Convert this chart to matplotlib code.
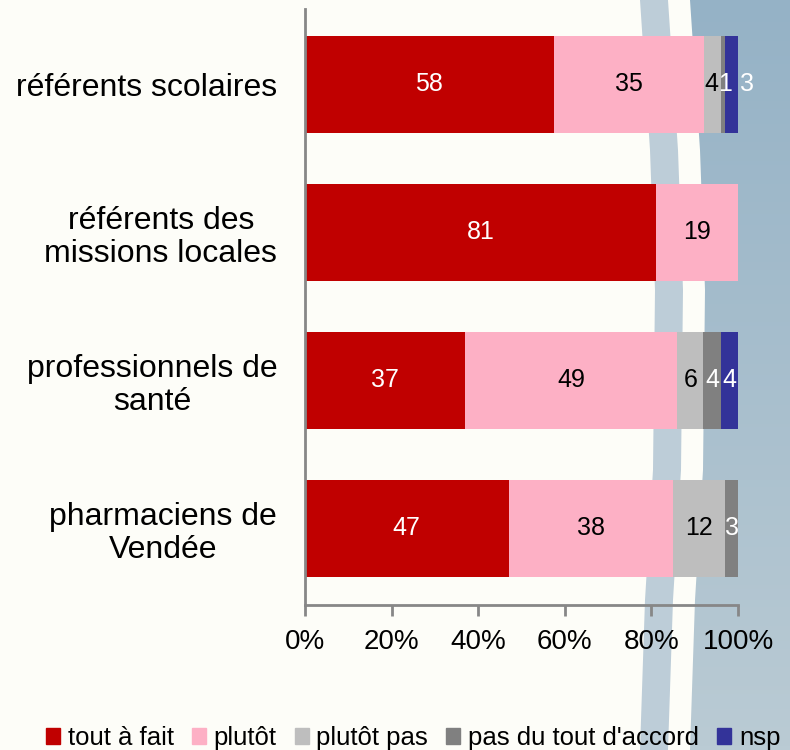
import numpy as np
import matplotlib
matplotlib.use("Agg")
import matplotlib.pyplot as plt
from matplotlib.patches import Polygon, Patch

categories = ["référents scolaires", "référents des\nmissions locales",
              "professionnels de\nsanté", "pharmaciens de\nVendée"]
series = ["tout à fait", "plutôt", "plutôt pas", "pas du tout d'accord", "nsp"]
values = np.array([
    [58, 35, 4, 1, 3],
    [81, 19, 0, 0, 0],
    [37, 49, 6, 4, 4],
    [47, 38, 12, 3, 0],
], dtype=float)
colors = ["#C00000", "#FDB0C5", "#BEBEBE", "#808080", "#333399"]
label_colors = ["white", "black", "black", "white", "white"]
xticks = [0, 20, 40, 60, 80, 100]

plt.rcParams['font.family'] = ['Liberation Sans', 'DejaVu Sans']

W, H = 790, 750
fig = plt.figure(figsize=(W / 100, H / 100), dpi=100, facecolor="#FDFDF8")

# background swoosh (decoration only)
bg = fig.add_axes([0, 0, 1, 1], zorder=-5)
bg.set_xlim(0, W)
bg.set_ylim(H, 0)
bg.axis("off")
ys = np.array([0, 150, 290, 470, 600, 750])
edge = np.array([640, 650, 655, 653, 645, 640])
lb = Polygon(np.r_[np.c_[edge, ys], np.c_[edge[::-1] + 28, ys[::-1]]],
             closed=True, color="#BDCDD8", lw=0)
bg.add_patch(lb)
blue_left = edge + 50
grad = np.linspace(0, 1, 200)[:, None]
c0 = np.array([0x95, 0xB2, 0xC6]) / 255
c1 = np.array([0xBA, 0xCB, 0xD4]) / 255
img = c0 + (c1 - c0) * grad[..., None]
im = bg.imshow(np.repeat(img, 2, axis=1), extent=[600, W, H, 0], aspect="auto")
clip = Polygon(np.r_[np.c_[blue_left, ys], [[W, H], [W, 0]]], closed=True,
               transform=bg.transData)
im.set_clip_path(clip)

ax = fig.add_axes([305 / W, 1 - 605 / H, (738 - 305) / W, (605 - 9) / H])
ax.set_facecolor("none")

pct = values / values.sum(axis=1, keepdims=True) * 100
y = np.arange(len(categories))
left = np.zeros(len(categories))
nudge = {(0, 2): -0.3, (0, 3): 0.5, (0, 4): 3.5}
for j, s in enumerate(series):
    ax.barh(y, pct[:, j], left=left, height=0.655, color=colors[j], label=s)
    for i in range(len(categories)):
        if values[i, j] > 0:
            xc = left[i] + pct[i, j] / 2 + nudge.get((i, j), 0)
            ax.text(xc, i, f"{values[i, j]:.0f}", ha="center", va="center",
                    fontsize=18, color=label_colors[j])
    left += pct[:, j]

ax.set_xlim(0, 100)
ax.set_ylim(3.52, -0.507)
ax.set_yticks(y)
ax.set_yticklabels(categories, fontsize=23, ha="right", multialignment="center",
                   linespacing=1.15)
ax.tick_params(axis="y", length=0, pad=20)
ax.set_xticks(xticks)
ax.set_xticklabels([f"{t}%" for t in xticks], fontsize=20)
ax.tick_params(axis="x", length=8, width=2, color="#878787", pad=9)
for side in ["top", "right"]:
    ax.spines[side].set_visible(False)
for side in ["left", "bottom"]:
    ax.spines[side].set_color("#878787")
    ax.spines[side].set_linewidth(2)

handles = [Patch(color=c) for c in colors]
fig.legend(handles, series, loc="center", bbox_to_anchor=(0.523, 1 - 738 / H),
           ncol=5, frameon=False, fontsize=18.5, borderpad=0, borderaxespad=0,
           handlelength=0.55, handleheight=0.55, handletextpad=0.3, columnspacing=0.7)

fig.savefig("out.png", dpi=100, facecolor=fig.get_facecolor())
